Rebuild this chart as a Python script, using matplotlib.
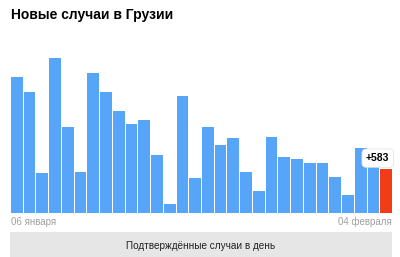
import matplotlib.pyplot as plt
from matplotlib.patches import FancyBboxPatch

plt.rcParams['font.family'] = ['Liberation Sans', 'DejaVu Sans']

title = "Новые случаи в Грузии"
footer = "Подтверждённые случаи в день"
first_label = "06 января"
last_label = "04 февраля"

# daily confirmed cases, 06 Jan .. 04 Feb
cases = [1810, 1618, 538, 2064, 1143, 547, 1864, 1618, 1361, 1183,
         1245, 778, 116, 1561, 471, 1143, 903, 997, 547, 297,
         1010, 747, 724, 671, 671, 480, 236, 863, 650, 583]

blue = "#56a5f9"
red = "#f23b17"

fig = plt.figure(figsize=(4, 2.57), dpi=100)
ax = fig.add_axes([11 / 400, 44 / 257, 381 / 400, 165 / 257])

n = len(cases)
colors = [blue] * (n - 1) + [red]
ax.bar(range(n), cases, width=0.92, color=colors, align='center')
ax.set_xlim(-0.46, n - 1 + 0.46)
ax.set_ylim(0, 2200)
ax.axis('off')

# value bubble for the last day
ax.annotate("+%d" % cases[-1], xy=(n - 1, cases[-1]), xytext=(-6, 8),
            textcoords='offset points', ha='center', va='center',
            fontsize=7.5, fontweight='bold', color='black',
            bbox=dict(boxstyle='round,pad=0.4', fc='white', ec='#e0e0e0', lw=0.5))

fig.text(11 / 400, 1 - 15 / 257, title, fontsize=10, fontweight='bold',
         va='center', ha='left')
fig.text(11 / 400, 1 - 222 / 257, first_label, fontsize=7, color='#a0a0a0',
         va='center', ha='left')
fig.text(392 / 400, 1 - 222 / 257, last_label, fontsize=7, color='#a0a0a0',
         va='center', ha='right')

box = FancyBboxPatch((10 / 400, 0), 382 / 400, 25 / 257, boxstyle='square,pad=0',
                     transform=fig.transFigure, fc='#e6e6e6', ec='none')
fig.patches.append(box)
fig.text(201 / 400, 1 - 246 / 257, footer, fontsize=7.2, color='#222222',
         va='center', ha='center')

fig.savefig("out.png", dpi=100)
